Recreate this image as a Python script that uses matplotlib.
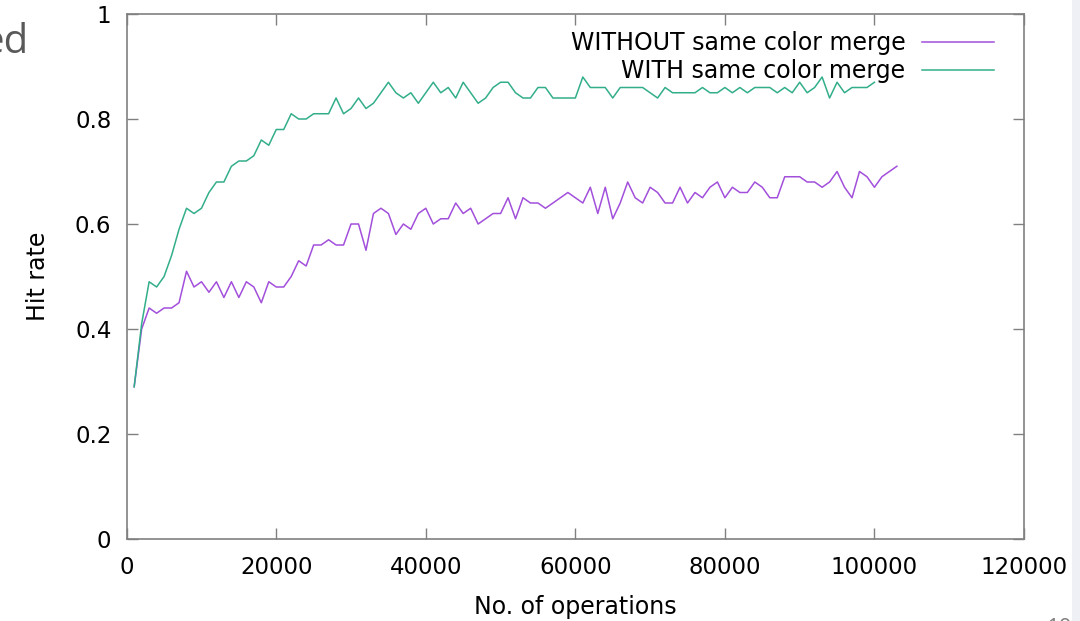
import matplotlib
matplotlib.use("Agg")
import matplotlib.pyplot as plt
from matplotlib.patches import Rectangle

# ---- data ----
ops_without = list(range(1000, 104000, 1000))
hit_without = [0.29, 0.40, 0.44, 0.43, 0.44, 0.44, 0.45, 0.51, 0.48, 0.49,
               0.47, 0.49, 0.46, 0.49, 0.46, 0.49, 0.48, 0.45, 0.49, 0.48,
               0.48, 0.50, 0.53, 0.52, 0.56, 0.56, 0.57, 0.56, 0.56, 0.60,
               0.60, 0.55, 0.62, 0.63, 0.62, 0.58, 0.60, 0.59, 0.62, 0.63,
               0.60, 0.61, 0.61, 0.64, 0.62, 0.63, 0.60, 0.61, 0.62, 0.62,
               0.65, 0.61, 0.65, 0.64, 0.64, 0.63, 0.64, 0.65, 0.66, 0.65,
               0.64, 0.67, 0.62, 0.67, 0.61, 0.64, 0.68, 0.65, 0.64, 0.67,
               0.66, 0.64, 0.64, 0.67, 0.64, 0.66, 0.65, 0.67, 0.68, 0.65,
               0.67, 0.66, 0.66, 0.68, 0.67, 0.65, 0.65, 0.69, 0.69, 0.69,
               0.68, 0.68, 0.67, 0.68, 0.70, 0.67, 0.65, 0.70, 0.69, 0.67,
               0.69, 0.70, 0.71]

ops_with = list(range(1000, 101000, 1000))
hit_with = [0.29, 0.41, 0.49, 0.48, 0.50, 0.54, 0.59, 0.63, 0.62, 0.63,
            0.66, 0.68, 0.68, 0.71, 0.72, 0.72, 0.73, 0.76, 0.75, 0.78,
            0.78, 0.81, 0.80, 0.80, 0.81, 0.81, 0.81, 0.84, 0.81, 0.82,
            0.84, 0.82, 0.83, 0.85, 0.87, 0.85, 0.84, 0.85, 0.83, 0.85,
            0.87, 0.85, 0.86, 0.84, 0.87, 0.85, 0.83, 0.84, 0.86, 0.87,
            0.87, 0.85, 0.84, 0.84, 0.86, 0.86, 0.84, 0.84, 0.84, 0.84,
            0.88, 0.86, 0.86, 0.86, 0.84, 0.86, 0.86, 0.86, 0.86, 0.85,
            0.84, 0.86, 0.85, 0.85, 0.85, 0.85, 0.86, 0.85, 0.85, 0.86,
            0.85, 0.86, 0.85, 0.86, 0.86, 0.86, 0.85, 0.86, 0.85, 0.87,
            0.85, 0.86, 0.88, 0.84, 0.87, 0.85, 0.86, 0.86, 0.86, 0.87]

label_without = "WITHOUT same color merge"
label_with = "WITH same color merge"
x_ticks = [0, 20000, 40000, 60000, 80000, 100000, 120000]
y_ticks = [0, 0.2, 0.4, 0.6, 0.8, 1]
y_tick_labels = ["0", "0.2", "0.4", "0.6", "0.8", "1"]

plt.rcParams['font.family'] = ['DejaVu Sans']

W, H = 1080, 621
fig = plt.figure(figsize=(W / 100, H / 100), dpi=100)
fig.patch.set_facecolor('white')

left, right, top, bottom = 126.7, 1024, 14, 539
ax = fig.add_axes([left / W, (H - bottom) / H, (right - left) / W, (bottom - top) / H])

ax.plot(ops_without, hit_without, color='#a24fdb', lw=1.1, label=label_without)
ax.plot(ops_with, hit_with, color='#33ae8a', lw=1.1, label=label_with)

ax.set_xlim(0, 120000)
ax.set_ylim(0, 1)
ax.set_xticks(x_ticks)
ax.set_xticklabels([str(t) for t in x_ticks])
ax.set_yticks(y_ticks)
ax.set_yticklabels(y_tick_labels)

for s in ax.spines.values():
    s.set_color('#808080')
    s.set_linewidth(1.2)
ax.tick_params(axis='both', which='both', direction='in', length=8, width=1.0,
               color='#808080', labelsize=16.5, labelcolor='black',
               top=True, right=True)
ax.tick_params(axis='x', pad=12)
ax.tick_params(axis='y', pad=11)

ax.set_xlabel("No. of operations", fontsize=17, labelpad=12)
ax.set_ylabel("Hit rate", fontsize=17, labelpad=18)

leg = ax.legend(loc='upper right', frameon=False, markerfirst=False,
                fontsize=17, handlelength=3.05, handletextpad=0.7,
                labelspacing=0.18, borderpad=0, borderaxespad=0,
                bbox_to_anchor=((994 - left) / (right - left), (bottom - 31) / (bottom - top)))
for t in leg.get_texts():
    t.set_ha('right')

# slide fragments around the chart
fig.text(29 / W, 1 - 53 / H, "ed", fontsize=29, color='#595959',
         family=['Open Sans', 'DejaVu Sans'], ha='right', va='baseline')
fig.text(1047 / W, 1 - 634 / H, "10", fontsize=16, color='#7f7f7f',
         family=['Open Sans', 'DejaVu Sans'], ha='left', va='baseline')
fig.patches.append(Rectangle((1072 / W, 0), 8 / W, 1, transform=fig.transFigure,
                             facecolor='#eef0f6', edgecolor='none', zorder=0))

fig.savefig("out.png", dpi=100)
